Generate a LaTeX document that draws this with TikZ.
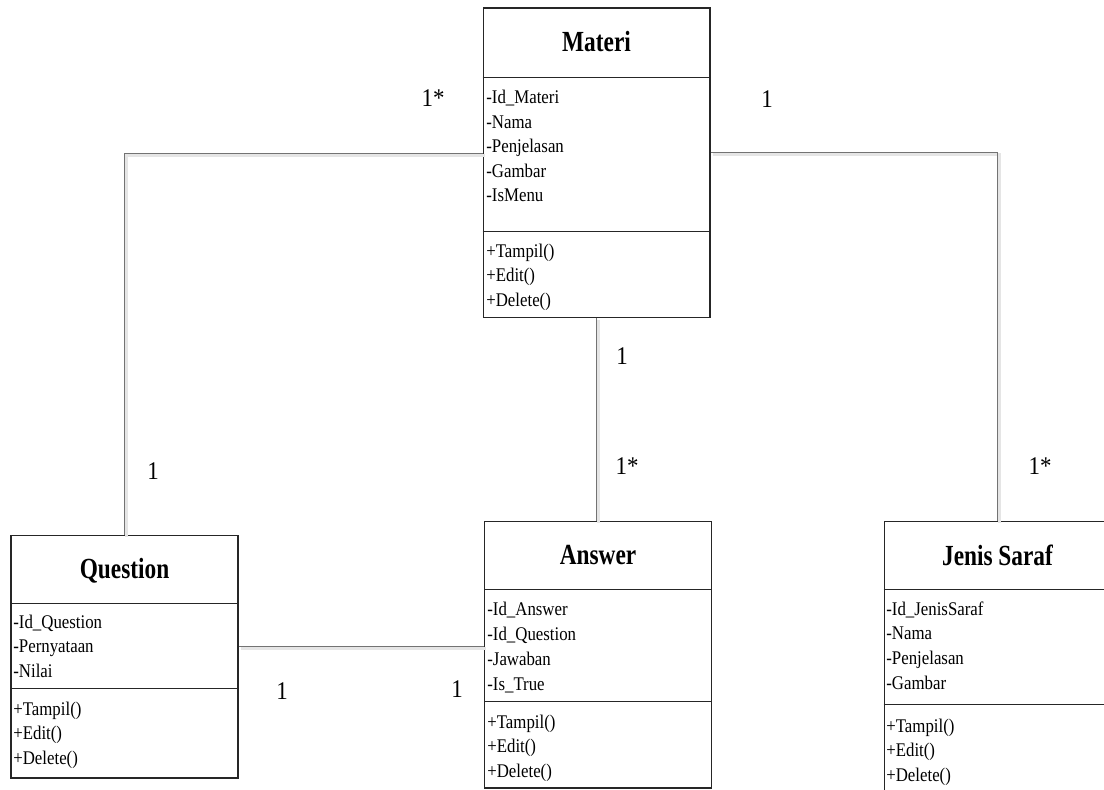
\documentclass[tikz,border=0pt]{standalone}
\usepackage{fontspec}
\setmainfont{Liberation Serif}[FakeStretch=0.9]
\newfontfamily\titlefont{Liberation Serif}[FakeStretch=0.8]
\newfontfamily\itemfont{Liberation Serif}[FakeStretch=0.87]
\usetikzlibrary{calc}

\begin{document}
\begin{tikzpicture}[x=0.02cm, y=-0.02cm,
        classbox/.style={draw=black!85, line width=0.6pt, inner sep=0pt, minimum width=4.54cm},
        sep/.style={draw=black!85, line width=0.6pt},
        title/.style={font=\titlefont\bfseries\fontsize{16.6}{19}\selectfont, inner sep=0pt, anchor=base},
        item/.style={font=\itemfont\fontsize{11}{12}\selectfont, inner sep=0pt, anchor=base west},
        mult/.style={font=\fontsize{14.5}{17}\selectfont, inner sep=0pt, anchor=base},
        link/.style={draw=black!55, line width=0.6pt,
            preaction={draw=black!10, line width=1.2pt, transform canvas={xshift=0.04cm, yshift=-0.04cm}}}]

        \clip (0,0) rectangle (1104,790);

        % Materi
        \node[classbox, minimum height=6.2cm] (materi) at (596.5,163) {};
        \draw[sep] ($(materi.north west)+(0,70)$) -- ($(materi.north east)+(0,70)$);
        \draw[sep] ($(materi.north west)+(0,224)$) -- ($(materi.north east)+(0,224)$);
        \node[title] (materi-t) at (596.5,52) {Materi};
        \foreach \t [count=\i] in {-Id\_Materi,-Nama,-Penjelasan,-Gambar,-IsMenu}
            \node[item] (materi-a\i) at (486,{104+24.5*(\i-1)}) {\t};
        \foreach \t [count=\i] in {+Tampil(),+Edit(),+Delete()}
            \node[item] (materi-m\i) at (486,{257+24.5*(\i-1)}) {\t};

        % Question
        \node[classbox, minimum height=4.86cm] (question) at (124.5,656.5) {};
        \draw[sep] ($(question.north west)+(0,69)$) -- ($(question.north east)+(0,69)$);
        \draw[sep] ($(question.north west)+(0,154)$) -- ($(question.north east)+(0,154)$);
        \node[title] (question-t) at (124.5,578) {Question};
        \foreach \t [count=\i] in {-Id\_Question,-Pernyataan,-Nilai}
            \node[item] (question-a\i) at (13,{628+24.5*(\i-1)}) {\t};
        \foreach \t [count=\i] in {+Tampil(),+Edit(),+Delete()}
            \node[item] (question-m\i) at (13,{715+24.5*(\i-1)}) {\t};

        % Answer
        \node[classbox, minimum height=5.34cm] (answer) at (598,654.5) {};
        \draw[sep] ($(answer.north west)+(0,69)$) -- ($(answer.north east)+(0,69)$);
        \draw[sep] ($(answer.north west)+(0,181)$) -- ($(answer.north east)+(0,181)$);
        \node[title] (answer-t) at (598,564) {Answer};
        \foreach \t [count=\i] in {-Id\_Answer,-Id\_Question,-Jawaban,-Is\_True}
            \node[item] (answer-a\i) at (487,{615+25*(\i-1)}) {\t};
        \foreach \t [count=\i] in {+Tampil(),+Edit(),+Delete()}
            \node[item] (answer-m\i) at (487,{728+24.5*(\i-1)}) {\t};

        % Jenis Saraf
        \node[classbox, minimum height=5.58cm] (jenis) at (997.5,660.5) {};
        \draw[sep] ($(jenis.north west)+(0,69)$) -- ($(jenis.north east)+(0,69)$);
        \draw[sep] ($(jenis.north west)+(0,184)$) -- ($(jenis.north east)+(0,184)$);
        \node[title] (jenis-t) at (997.5,565) {Jenis Saraf};
        \foreach \t [count=\i] in {-Id\_JenisSaraf,-Nama,-Penjelasan,-Gambar}
            \node[item] (jenis-a\i) at (886,{615+24.7*(\i-1)}) {\t};
        \foreach \t [count=\i] in {+Tampil(),+Edit(),+Delete()}
            \node[item] (jenis-m\i) at (886,{732+24.5*(\i-1)}) {\t};

        % associations
        \draw[link] ($(materi.north west)+(0,146)$) -| (question.north);
        \draw[link] ($(materi.north east)+(0,145)$) -| (jenis.north);
        \draw[link] (materi.south) -- (materi.south |- answer.north);
        \draw[link] ($(question.north east)+(0,112)$) coordinate (qa) -- (qa -| answer.west);

        \node[mult] (m-q) at (433,107) {1*};
        \node[mult] (m-j) at (767,108) {1};
        \node[mult] (q-m) at (153,479) {1};
        \node[mult] (j-m) at (1040,474) {1*};
        \node[mult] (m-a) at (622,364) {1};
        \node[mult] (a-m) at (627,474) {1*};
        \node[mult] (q-a) at (282,699) {1};
        \node[mult] (a-q) at (457,697) {1};
    \end{tikzpicture}
\end{document}
